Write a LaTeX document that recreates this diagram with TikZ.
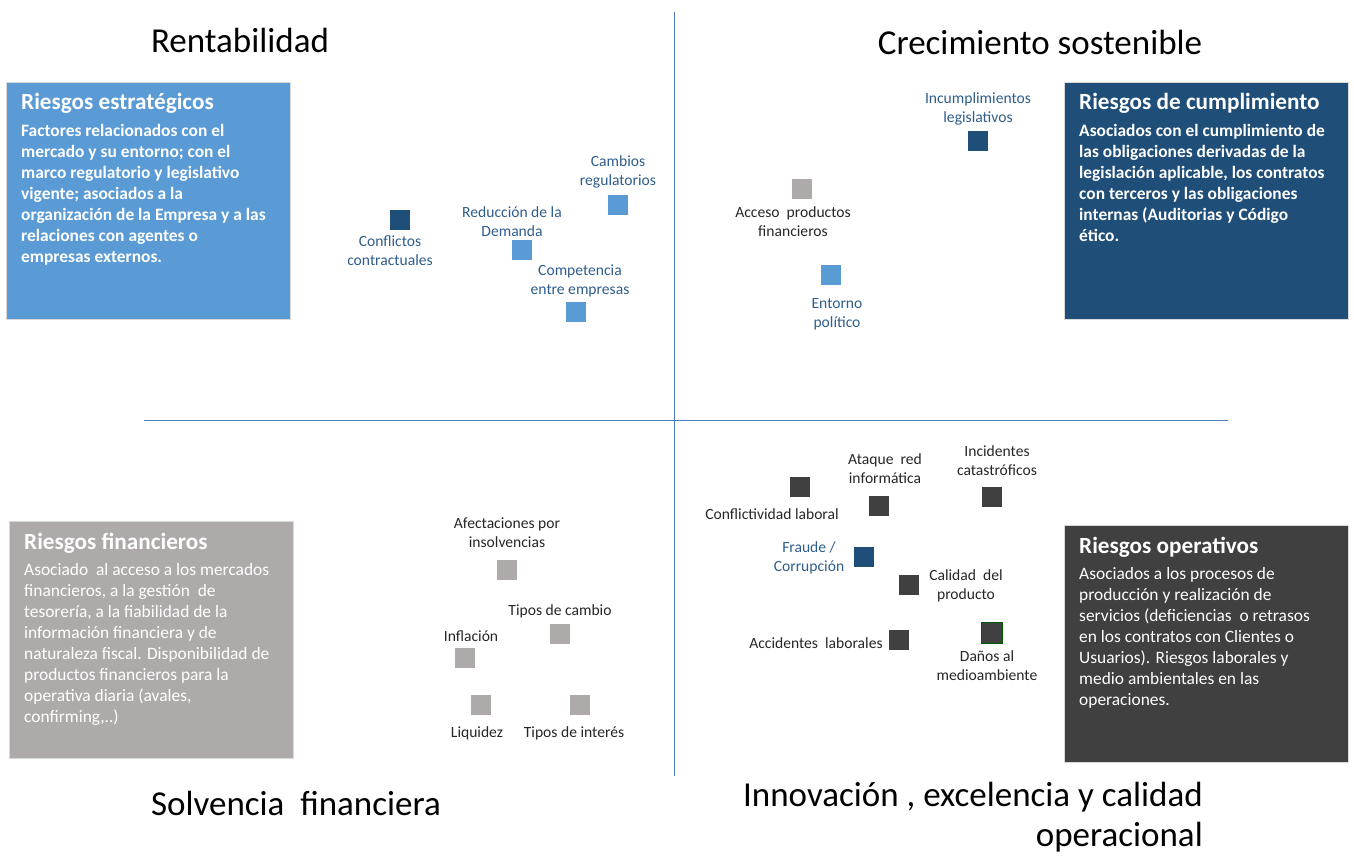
\documentclass[tikz,border=0pt]{standalone}
\usepackage{fontspec}
\setmainfont{Carlito}
\usepackage{tikz}
\definecolor{lightblue}{HTML}{5B9BD5}
\definecolor{navy}{HTML}{1F4E79}
\definecolor{stone}{HTML}{AEAAAA}
\definecolor{charcoal}{HTML}{404040}
\definecolor{axisblue}{HTML}{4F7CB8}
\definecolor{labelblue}{HTML}{2F5D8C}
\definecolor{labelgrey}{HTML}{262626}
\tikzstyle{riskbox}=[rectangle, inner sep=0pt, minimum width=284pt, minimum height=237pt, anchor=north west, draw=white!85!black, thin]
\tikzstyle{paneltitle}=[anchor=base west, inner sep=0pt, text=white, font=\fontsize{23.2}{28}\selectfont\bfseries]
\tikzstyle{paneltext}=[anchor=north west, align=left, inner sep=0pt, text=white]
\tikzstyle{sq}=[rectangle, minimum size=21pt, inner sep=0pt, draw=white, thin]
\tikzstyle{annot}=[align=center, inner sep=0pt, text=labelgrey, font=\fontsize{15.6}{19}\selectfont]
\tikzstyle{heading}=[inner sep=0pt, text=black, font=\fontsize{35}{40}\selectfont]
\tikzstyle{axis}=[draw=axisblue, line width=1pt]
\newcommand{\riskpanel}[7]
{
  \node[riskbox, fill=#4](#1) at (#2,#3){};
  \node[paneltitle](#1title) at ({#2+15},{#3+28}) {#5};
  \node[paneltext, font=\fontsize{17.4}{21}\selectfont#6](#1text) at ({#2+15},{#3+54-14.7}) {\strut #7};
}

\begin{document}
\begin{tikzpicture}[x=1pt, y=-1pt]
	\useasboundingbox (0,0) rectangle (1354,856);

	% axes
	\coordinate (top) at (674,12);
	\coordinate (bottom) at (674,776);
	\coordinate (left) at (144,420);
	\coordinate (right) at (1228,420);
	\draw[axis] (top) -- (bottom);
	\draw[axis] (left) -- (right);

	\node[heading](rent) at (240,40) {Rentabilidad};
	\node[heading](crec) at (1040,42) {Crecimiento sostenible};
	\node[heading](solv) at (296,803) {Solvencia\ \ financiera};
	\node[heading, align=right, anchor=east](innov) at (1203,817) {Innovación , excelencia y calidad\\operacional};

	\riskpanel{estr}{6}{82}{lightblue}{Riesgos estratégicos}{\bfseries}{Factores relacionados con el\\mercado y su entorno; con el\\marco regulatorio y legislativo\\vigente; asociados a la\\organización de la Empresa y a las\\relaciones con agentes o\\empresas externos.}
	\riskpanel{cump}{1064}{82}{navy}{Riesgos de cumplimiento}{\bfseries}{Asociados con el cumplimiento de\\las obligaciones derivadas de la\\legislación aplicable, los contratos\\con terceros y las obligaciones\\internas (Auditorias y Código\\ético.}
	\riskpanel{fin}{9}{521}{stone}{Riesgos financieros}{}{Asociado\ \ al acceso a los mercados\\financieros, a la gestión\ \ de\\tesorería, a la fiabilidad de la\\información financiera y de\\naturaleza fiscal. Disponibilidad de\\productos financieros para la\\operativa diaria (avales,\\confirming,..)}
	\riskpanel{oper}{1064}{525}{charcoal}{Riesgos operativos}{}{Asociados a los procesos de\\producción y realización de\\servicios (deficiencias\ \ o retrasos\\en los contratos con Clientes o\\Usuarios). Riesgos laborales y\\medio ambientales en las\\operaciones.}

	% strategic quadrant
	\node[sq, fill=navy](confl) at (400,220){};
	\node[annot, text=labelblue](confllab) at (390,251) {Conflictos\\contractuales};
	\node[sq, fill=lightblue](regul) at (618,205){};
	\node[annot, text=labelblue](regullab) at (618,172) {Cambios\\regulatorios};
	\node[sq, fill=lightblue](demanda) at (522,250){};
	\node[annot, text=labelblue](demandalab) at (512,222) {Reducción de la\\Demanda};
	\node[sq, fill=lightblue](compet) at (576,312){};
	\node[annot, text=labelblue](competlab) at (580,281) {Competencia\\entre empresas};

	% compliance quadrant
	\node[sq, fill=navy](incump) at (978,141){};
	\node[annot, text=labelblue](incumplab) at (978,109) {Incumplimientos\\legislativos};
	\node[sq, fill=stone](acceso) at (802,189){};
	\node[annot](accesolab) at (793,222) {Acceso\ \ productos\\financieros};
	\node[sq, fill=lightblue](entorno) at (831,275){};
	\node[annot, text=labelblue](entornolab) at (837,314) {Entorno\\político};

	% financial quadrant
	\node[sq, fill=stone](afect) at (507,570){};
	\node[annot](afectlab) at (507,533) {Afectaciones por\\insolvencias};
	\node[sq, fill=stone](cambio) at (560,634){};
	\node[annot](cambiolab) at (560,611) {Tipos de cambio};
	\node[sq, fill=stone](inflac) at (465,658){};
	\node[annot](inflaclab) at (471,636) {Inflación};
	\node[sq, fill=stone](liquid) at (481,705){};
	\node[annot](liquidlab) at (477,733) {Liquidez};
	\node[sq, fill=stone](interes) at (580,705){};
	\node[annot](intereslab) at (574,733) {Tipos de interés};

	% operational quadrant
	\node[sq, fill=charcoal](conflab) at (800,487){};
	\node[annot](conflablab) at (772,514) {Conflictividad laboral};
	\node[sq, fill=charcoal](ataque) at (879,506){};
	\node[annot](ataquelab) at (885,469) {Ataque\ \ red\\informática};
	\node[sq, fill=charcoal](incid) at (992,497){};
	\node[annot](incidlab) at (997,461) {Incidentes\\catastróficos};
	\node[sq, fill=navy](fraude) at (864,557){};
	\node[annot, text=labelblue](fraudelab) at (809,558) {Fraude /\\Corrupción};
	\node[sq, fill=charcoal](calidad) at (909,585){};
	\node[annot](calidadlab) at (966,586) {Calidad\ \ del\\producto};
	\node[sq, fill=charcoal](accid) at (899,640){};
	\node[annot](accidlab) at (816,643) {Accidentes\ \ laborales};
	\node[sq, fill=charcoal, draw=green!35!black](danos) at (992,633){};
	\node[annot](danoslab) at (987,666) {Daños al\\medioambiente};

\end{tikzpicture}
\end{document}
